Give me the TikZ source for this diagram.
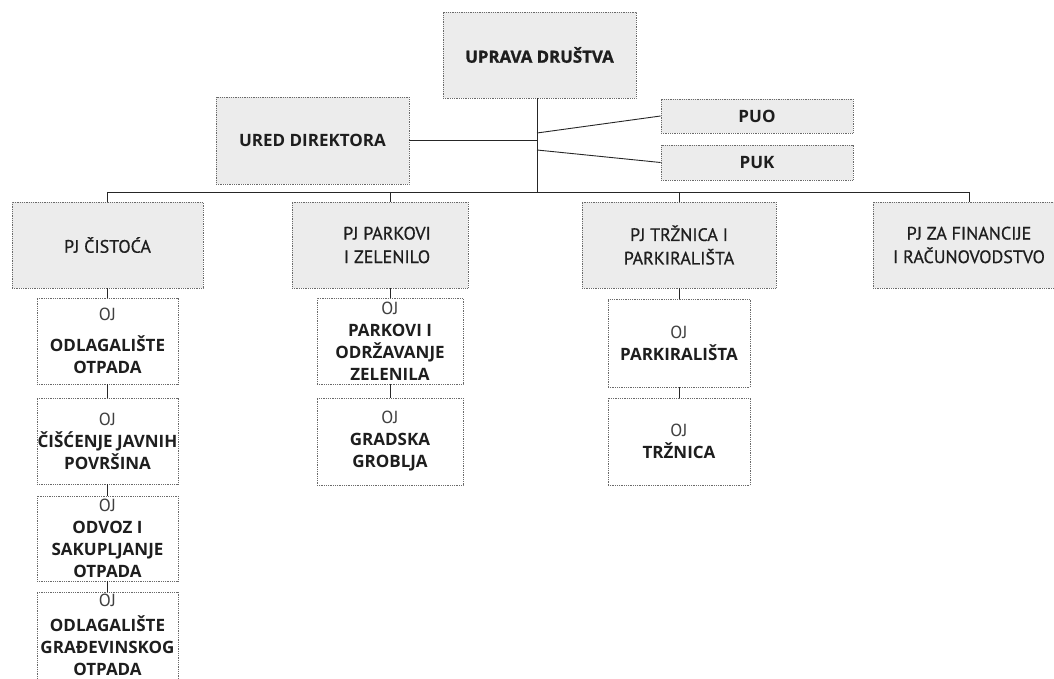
\documentclass[tikz,border=0pt]{standalone}
\usepackage{fontspec}
\setmainfont{PT Sans}
\newfontfamily\osans{Open Sans}
\newfontfamily\heavyfont{Open Sans}[BoldFeatures={FakeBold=1.2}]
\newfontfamily\medfont{PT Sans}[FakeBold=0.6]
\newcommand\bx[1]{{\osans\bfseries\fontsize{17}{22}\selectfont #1}}
\newcommand\ojt{{\color{black!75}OJ}}
\definecolor{boxfill}{HTML}{ECECEC}
\definecolor{boxline}{HTML}{6A6A6A}
\definecolor{txt}{HTML}{1E1E1E}
\begin{document}
\begin{tikzpicture}[x=1pt,y=-1pt,
  base/.style={draw=boxline, densely dotted, line width=0.8pt, inner sep=0pt, align=center,
    text=txt, font=\fontsize{17.5}{22}\selectfont},
  graybox/.style={base, fill=boxfill},
  pjbox/.style={graybox, font=\medfont\fontsize{18}{23.5}\selectfont},
  ojbox/.style={base, fill=white},
  conn/.style={draw=black!85, line width=0.9pt, solid}]
\useasboundingbox (0,0) rectangle (1054,679);
\clip (0,0) rectangle (1054,679);

% top level
\node[graybox, minimum width=193, minimum height=86] (upr) at (539.5,55) {{\heavyfont\bfseries\fontsize{16.8}{22}\selectfont UPRAVA DRUŠTVA}};
\node[graybox, minimum width=192, minimum height=34] (puo) at (757,116) {\bx{PUO}};
\node[graybox, minimum width=192, minimum height=35] (puk) at (757,162.5) {\bx{PUK}};
\node[graybox, minimum width=193, minimum height=87] (ured) at (312.5,140.5) {\bx{URED DIREKTORA}};

% PJ level
\node[pjbox, minimum width=191, minimum height=86] (cist) at (107.5,245) {PJ ČISTOĆA};
\node[pjbox, minimum width=176, minimum height=86] (pjpark) at (380,245) {\hspace*{14pt}PJ PARKOVI\\\hspace*{14pt}I ZELENILO};
\node[pjbox, minimum width=194, minimum height=86] (pjtrz) at (679,245) {PJ TRŽNICA I\\PARKIRALIŠTA};
\node[pjbox, minimum width=192, minimum height=86] (fin) at (969,245) {PJ ZA FINANCIJE\\I RAČUNOVODSTVO};

% OJ column 1
\node[ojbox, minimum width=141, minimum height=86] (oj1) at (107.5,341) {\ojt\\[9pt]\bx{ODLAGALIŠTE}\\\bx{OTPADA}};
\node[ojbox, minimum width=141, minimum height=86] (oj2) at (107.5,441) {\ojt\\\bx{ČIŠĆENJE JAVNIH}\\\bx{POVRŠINA}};
\node[ojbox, minimum width=141, minimum height=85] (oj3) at (107.5,538.5) {\ojt\\\bx{ODVOZ I}\\\bx{SAKUPLJANJE}\\\bx{OTPADA}};
\node[ojbox, minimum width=141, anchor=north, inner ysep=2pt] (oj4) at (107.5,592) {\ojt\\[3pt]\bx{ODLAGALIŠTE}\\\bx{GRAĐEVINSKOG}\\\bx{OTPADA}\rule[-15pt]{0pt}{15pt}};

% OJ column 2
\node[ojbox, minimum width=146, minimum height=86] (ojp1) at (390,341) {\ojt\\\bx{PARKOVI I}\\\bx{ODRŽAVANJE}\\\bx{ZELENILA}};
\node[ojbox, minimum width=146, minimum height=87] (ojp2) at (390,441.5) {\ojt\\\bx{GRADSKA}\\\bx{GROBLJA}};

% OJ column 3
\node[ojbox, minimum width=142, minimum height=88] (ojt1) at (679,343) {\ojt\\\bx{PARKIRALIŠTA}};
\node[ojbox, minimum width=142, minimum height=87] (ojt2) at (679,441.5) {\ojt\\\bx{TRŽNICA}};

% connectors
\coordinate (spine) at (537,192);
\coordinate (k1) at (537,133);
\coordinate (k2) at (537,150);
\coordinate (k3) at (537,140.5);
\draw[conn] (spine |- upr.south) -- (spine);
\draw[conn] (k1) -- (puo.west);
\draw[conn] (k2) -- (puk.west);
\draw[conn] (ured.east) -- (k3);
\draw[conn] (cist.north |- spine) -- (fin.north |- spine);
\draw[conn] (cist.north |- spine) -- (cist.north);
\draw[conn] (ojp1.north |- spine) -- (ojp1.north |- pjpark.north);
\draw[conn] (pjtrz.north |- spine) -- (pjtrz.north);
\draw[conn] (fin.north |- spine) -- (fin.north);

\draw[conn] (cist.south) -- (oj1.north);
\draw[conn] (oj1.south) -- (oj2.north);
\draw[conn] (oj2.south) -- (oj3.north);
\draw[conn] (oj3.south) -- (oj4.north);
\draw[conn] (ojp1.north |- pjpark.south) -- (ojp1.north);
\draw[conn] (ojp1.south) -- (ojp2.north);
\draw[conn] (pjtrz.south) -- (ojt1.north);
\draw[conn] (ojt1.south) -- (ojt2.north);
\end{tikzpicture}
\end{document}
